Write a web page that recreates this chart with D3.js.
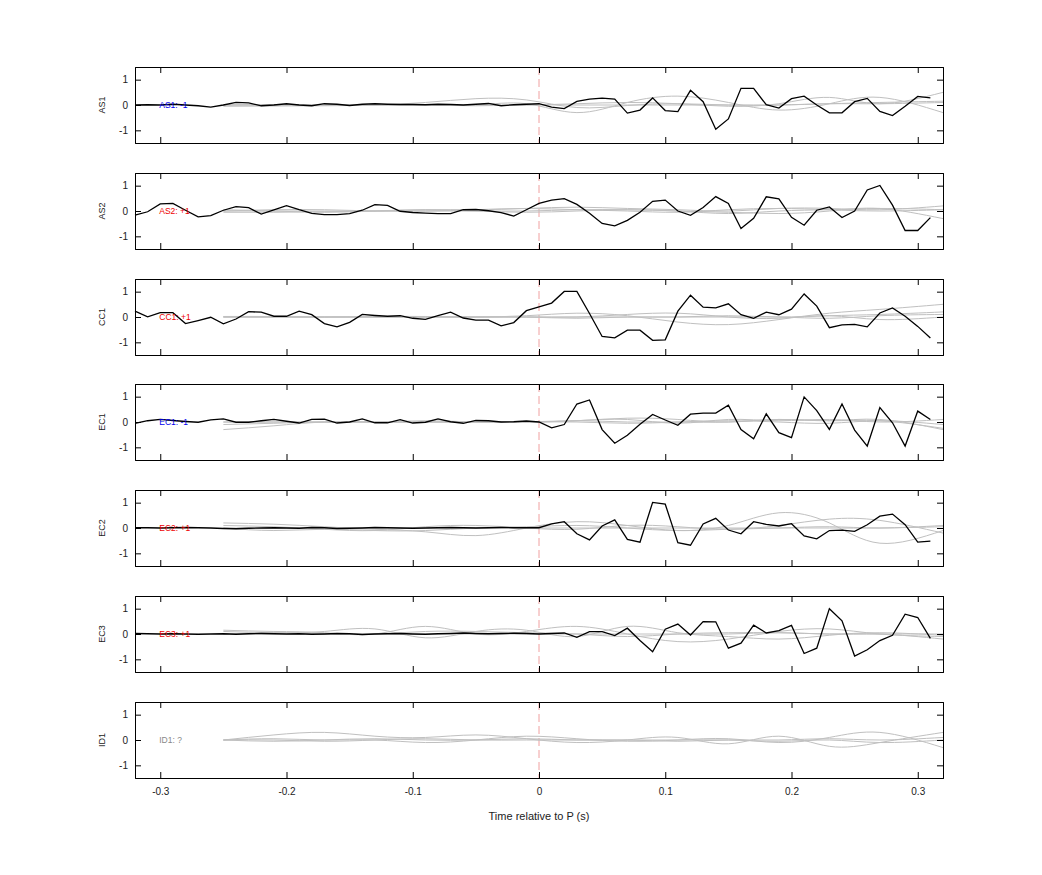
<!DOCTYPE html>
<html>
<head>
<meta charset="utf-8">
<script src="https://cdn.jsdelivr.net/npm/d3@7"></script>
<style>
  body { margin: 0; background: #fff; }
  svg text { font-family: "Liberation Sans", Arial, sans-serif; }
</style>
</head>
<body>
<div id="chart"></div>
<script>
// channel names and their polarity tags
const channels = ["AS1", "AS2", "CC1", "EC1", "EC2", "EC3", "ID1"];
const tags = ["AS1: -1", "AS2: +1", "CC1: +1", "EC1: -1", "EC2: +1", "EC3: +1", "ID1: ?"];
const tagColors = ["#0000ee", "#ee0000", "#ee0000", "#0000ee", "#ee0000", "#ee0000", "#888888"];

// black trace sampled every 0.01 s from -0.32 to 0.31
const sampleTimes = d3.range(64).map(i => +(-0.32 + i * 0.01).toFixed(2));
const as1 = [0, 0.01, 0, 0.03, 0, -0.03, -0.08, 0, 0.1, 0.08, -0.03, 0, 0.05, 0, -0.03, 0.05, 0.03, -0.02, 0.03, 0.05, 0.03, 0.02, 0.02, 0.01, 0.03, 0.02, 0, 0.03, 0.06, -0.03, 0.01, 0.03,
  0.05, -0.08, -0.14, 0.14, 0.23, 0.27, 0.23, -0.32, -0.2, 0.28, -0.22, -0.26, 0.58, 0.13, -0.96, -0.55, 0.66, 0.66, 0.01, -0.12, 0.25, 0.35, 0, -0.31, -0.31, 0.13, 0.26, -0.25, -0.42, -0.05, 0.34, 0.28];
const as2 = [-0.16, -0.03, 0.28, 0.3, 0.03, -0.23, -0.18, 0.03, 0.17, 0.13, -0.12, 0.04, 0.21, 0.05, -0.09, -0.14, -0.14, -0.1, 0.03, 0.25, 0.22, -0.01, -0.06, -0.08, -0.1, -0.1, 0.05, 0.06, 0.01, -0.06, -0.2, 0.05,
  0.3, 0.43, 0.49, 0.26, -0.09, -0.49, -0.59, -0.37, -0.05, 0.38, 0.43, 0, -0.17, 0.14, 0.57, 0.3, -0.69, -0.29, 0.56, 0.48, -0.25, -0.56, 0.03, 0.16, -0.26, 0, 0.83, 1.01, 0.23, -0.77, -0.77, -0.26];
const cc1 = [0.23, 0.01, 0.17, 0.17, -0.26, -0.14, -0.01, -0.27, -0.08, 0.21, 0.19, 0.03, 0.03, 0.23, 0.09, -0.26, -0.39, -0.21, 0.1, 0.06, 0.03, 0.05, -0.05, -0.09, 0.05, 0.19, -0.04, -0.12, -0.12, -0.35, -0.22, 0.25,
  0.4, 0.55, 1.01, 1.01, 0.14, -0.77, -0.82, -0.52, -0.52, -0.92, -0.9, 0.23, 0.86, 0.39, 0.36, 0.52, 0.09, -0.05, 0.19, 0.09, 0.31, 0.91, 0.43, -0.42, -0.31, -0.29, -0.39, 0.16, 0.36, 0.03, -0.37, -0.83];
const ec1 = [-0.05, 0.05, 0.1, 0.06, 0.02, -0.01, 0.08, 0.12, -0.01, -0.01, 0.05, 0.1, 0.03, -0.04, 0.1, 0.11, -0.04, 0, 0.12, -0.03, -0.03, 0.09, -0.04, -0.01, 0.12, 0.01, -0.05, 0.06, 0.05, 0, 0.01, 0.04,
  0, -0.23, -0.1, 0.71, 0.87, -0.3, -0.84, -0.52, -0.09, 0.3, 0.08, -0.13, 0.31, 0.35, 0.35, 0.66, -0.3, -0.66, 0.32, -0.42, -0.62, 0.99, 0.45, -0.29, 0.71, -0.32, -0.95, 0.57, -0.03, -0.95, 0.43, 0.1];
const ec2 = [0.01, 0.01, 0, 0.01, 0.02, 0.01, 0, -0.02, -0.03, -0.01, 0, 0.01, 0, -0.01, 0.02, 0.01, -0.02, -0.01, 0, 0.02, 0.01, 0, -0.01, 0, 0.01, 0.02, 0.01, 0, 0.01, 0.02, 0.01, 0.01,
  0.01, 0.16, 0.25, -0.23, -0.47, 0.08, 0.32, -0.45, -0.56, 1.01, 0.94, -0.58, -0.68, 0.16, 0.38, -0.08, -0.23, 0.25, 0.14, 0.08, 0.17, -0.31, -0.43, -0.1, -0.08, -0.13, 0.13, 0.47, 0.55, 0.13, -0.56, -0.52];
const ec3 = [0.02, 0.01, 0, 0.01, 0, -0.01, 0, 0.01, -0.01, 0.01, 0.02, 0.01, 0, 0.01, -0.01, 0, 0.02, 0.01, -0.02, 0, 0.01, 0.02, 0, -0.01, 0.01, 0.02, 0.04, 0.02, 0.01, 0.02, 0.03, 0.02,
  0, 0.02, 0.04, -0.13, 0.09, 0.09, -0.06, 0.23, -0.26, -0.7, 0.19, 0.39, -0.04, 0.49, 0.48, -0.56, -0.36, 0.35, 0.04, 0.13, 0.34, -0.77, -0.56, 1.0, 0.52, -0.87, -0.62, -0.26, -0.05, 0.78, 0.65, -0.17];
const blackTraces = [as1, as2, cc1, ec1, ec2, ec3, null];

// grey reference traces: knots every 0.04 s from -0.25 to 0.32
const greyTimes = [-0.25, -0.21, -0.17, -0.13, -0.09, -0.05, -0.01, 0.03, 0.07, 0.11, 0.15, 0.19, 0.23, 0.27, 0.32];
const greyTraces = [
  [[-0.05, -0.04, -0.03, 0, 0.1, 0.25, 0.2, -0.1, -0.02, 0.05, 0, 0, 0.05, 0.1, 0.15],
   [0, 0, 0, 0, 0, 0, 0.05, -0.3, 0.1, 0.35, 0.1, -0.2, 0.05, 0.3, -0.3],
   [0, 0.02, 0, 0, 0, 0, 0, 0.05, 0.1, 0.05, -0.05, 0.05, 0.3, 0.05, 0.5],
   [0, 0, 0, 0, 0, -0.03, 0, 0, 0, 0, 0, 0, 0.05, 0.05, 0.1]],
  [[-0.05, -0.05, -0.03, 0, 0.05, 0.05, 0.1, 0.15, 0.1, 0.05, 0, 0.1, 0.1, 0.05, 0.2],
   [0.05, 0, -0.05, 0, 0.05, 0, -0.05, 0, 0.05, 0, -0.05, -0.1, 0, 0.1, -0.3],
   [0, 0.05, 0.05, 0, 0, 0.05, 0.1, 0.05, 0, -0.05, 0.05, 0.1, 0.05, 0, 0.05],
   [0, 0, 0, 0, 0, 0, 0, 0.05, 0.05, 0, -0.1, 0, 0.05, 0.1, 0.05]],
  [[0, 0, 0, 0, 0, 0, 0.05, 0.15, 0.05, -0.2, -0.3, -0.1, 0.15, 0.3, 0.5],
   [0, 0, 0, 0, 0, 0, 0, 0, 0.1, 0.15, 0, -0.05, 0.05, -0.1, 0],
   [0.02, 0.02, 0, 0.02, 0.02, 0, 0, 0, 0, 0, 0, 0, -0.05, 0.05, 0.1],
   [0, 0, 0, 0, 0, 0, 0, -0.05, 0, 0, 0.05, 0, 0.05, 0.1, 0.2]],
  [[-0.3, -0.15, 0, 0, 0, 0, 0, 0.05, 0.15, 0.1, 0, 0.1, 0.05, 0.1, -0.3],
   [-0.1, -0.05, 0, 0, 0.05, 0, 0, 0.05, 0.1, -0.05, 0.1, 0.05, 0.1, 0, 0.1],
   [0, 0, 0, 0, 0, 0, 0, 0, -0.05, 0, 0.05, 0, -0.05, 0.05, -0.1],
   [0, 0, 0, 0, 0, 0, 0, 0.05, 0, 0, 0, 0.1, 0.05, 0.05, -0.25]],
  [[0.2, 0.15, 0.05, -0.05, -0.15, -0.3, 0, 0.25, 0.1, -0.1, 0.1, 0.6, 0.2, -0.6, -0.1],
   [0.1, 0.05, -0.05, -0.1, 0.05, 0.1, 0, -0.05, 0.1, 0.05, -0.05, 0.1, 0.35, 0.3, -0.2],
   [0, -0.1, -0.05, -0.1, -0.1, 0, 0.05, 0.1, 0, -0.1, -0.05, 0, 0.05, 0, 0.1],
   [0, 0, 0, 0, 0, 0, 0, 0, 0, 0, 0, 0, 0, 0, 0.05]],
  [[0.15, 0.1, 0.05, 0, 0.3, 0, 0.1, 0.3, 0, -0.3, -0.2, 0.1, 0.2, 0, -0.1],
   [0.1, 0.05, 0.1, 0.2, -0.15, 0.1, 0.15, -0.1, 0.3, 0.05, -0.1, -0.2, -0.05, 0.05, -0.05],
   [0, 0.05, 0, 0, 0.1, 0.1, 0.05, 0, -0.1, 0, 0.05, 0.05, 0, 0, 0],
   [0, 0, 0, 0, 0, 0, 0, 0, 0, 0, 0, 0.05, 0, 0, -0.2]],
  [[0, 0.2, 0.3, 0.15, 0.1, 0.2, 0.05, -0.1, 0, 0.1, -0.15, 0.15, -0.25, -0.1, 0.3],
   [0, 0.05, 0, 0, -0.1, 0, 0.15, 0.05, -0.05, 0, 0.05, -0.1, 0.1, 0.3, -0.3],
   [0, 0, -0.05, 0, 0.05, 0, 0, 0, 0, -0.05, 0, 0, 0.05, 0, 0.1],
   [0, -0.05, 0, 0.05, 0, 0, 0.05, 0, 0, 0, 0, -0.05, 0, -0.1, 0]]
];

const xTicks = [-0.3, -0.2, -0.1, 0, 0.1, 0.2, 0.3];
const yTicks = [-1, 0, 1];

const width = 1042;
const height = 875;
const left = 135;
const right = 943;
const panelTops = [67, 173, 279, 384, 490, 596, 702];
const panelH = 76;

const svg = d3.select("#chart").append("svg")
  .attr("width", width)
  .attr("height", height);

const x = d3.scaleLinear().domain([-0.32, 0.32]).range([left, right]);

const plainNum = d => String(d);

channels.forEach((name, i) => {
  const top = panelTops[i];
  const y = d3.scaleLinear().domain([-1.5, 1.5]).range([top + panelH, top]);
  const g = svg.append("g");

  // dashed onset line
  g.append("line")
    .attr("x1", x(0)).attr("x2", x(0))
    .attr("y1", top).attr("y2", top + panelH)
    .attr("stroke", "#f0a0a0")
    .attr("stroke-dasharray", "8,4");

  const greyLine = d3.line()
    .x((d, j) => x(greyTimes[j]))
    .y(d => y(d))
    .curve(d3.curveNatural);
  g.selectAll("path.grey").data(greyTraces[i]).enter()
    .append("path")
    .attr("class", "grey")
    .attr("d", greyLine)
    .attr("fill", "none")
    .attr("stroke", "#c0c0c0")
    .attr("stroke-width", 1);

  if (blackTraces[i]) {
    const blackLine = d3.line()
      .x((d, j) => x(sampleTimes[j]))
      .y(d => y(d));
    g.append("path")
      .attr("d", blackLine(blackTraces[i]))
      .attr("fill", "none")
      .attr("stroke", "#000")
      .attr("stroke-width", 1.3);
  }

  g.append("text")
    .attr("x", x(-0.3) - 1).attr("y", y(0) + 3)
    .attr("font-size", 8.5)
    .attr("fill", tagColors[i])
    .text(tags[i]);

  // axes with inward ticks (all four sides)
  const lastPanel = i === channels.length - 1;
  g.append("g")
    .attr("transform", `translate(0,${top + panelH})`)
    .call(d3.axisBottom(x).tickValues(xTicks).tickSize(-6).tickPadding(10)
      .tickFormat(lastPanel ? plainNum : () => ""));
  g.append("g")
    .attr("transform", `translate(0,${top})`)
    .call(d3.axisTop(x).tickValues(xTicks).tickSize(-6).tickFormat(() => ""));
  g.append("g")
    .attr("transform", `translate(${left},0)`)
    .call(d3.axisLeft(y).tickValues(yTicks).tickSize(-6).tickPadding(7).tickFormat(plainNum));
  g.append("g")
    .attr("transform", `translate(${right},0)`)
    .call(d3.axisRight(y).tickValues(yTicks).tickSize(-6).tickFormat(() => ""));

  g.selectAll(".domain").attr("stroke", "#000").attr("stroke-width", 1);
  g.selectAll(".tick line").attr("stroke", "#000");
  g.selectAll(".tick text").attr("font-size", 10).attr("fill", "#222");

  g.append("text")
    .attr("transform", `translate(105,${y(0)}) rotate(-90)`)
    .attr("text-anchor", "middle")
    .attr("font-size", 9)
    .attr("fill", "#222")
    .text(name);
});

svg.append("text")
  .attr("x", x(0)).attr("y", 820)
  .attr("text-anchor", "middle")
  .attr("font-size", 11)
  .attr("fill", "#222")
  .text("Time relative to P (s)");
</script>
</body>
</html>
